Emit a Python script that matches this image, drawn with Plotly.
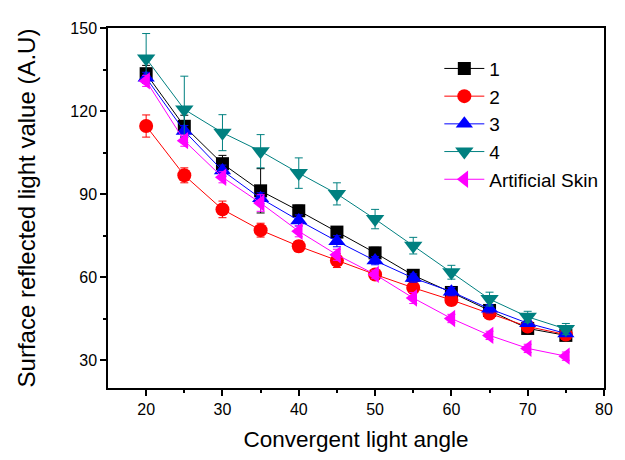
import plotly.graph_objects as go

angles = [20, 25, 30, 35, 40, 45, 50, 55, 60, 65, 70, 75]
s1 = [133.5, 114.5, 101, 91.2, 84, 76.3, 68.8, 60.7, 54.5, 48, 41.5, 39]
s2 = [114.6, 96.8, 84.5, 77, 71.2, 66, 61, 56.2, 51.8, 46.9, 42.2, 39.3]
s3 = [132, 112.8, 98.5, 88.5, 80.5, 73, 66, 59.7, 54.8, 48.6, 43.4, 39.7]
s4 = [139, 120.6, 112.2, 105.5, 97.6, 90.1, 81, 71.4, 61.8, 52.1, 45.7, 41.3]
s5 = [130.9, 109.3, 96.1, 86.8, 76.6, 68.1, 61, 52.5, 45.1, 39, 34.3, 31.5]

e1 = [3, 4, 3, 8, 2, 2, 2, 2, 2, 2, 1, 1]
e2 = [4, 2.7, 3, 2.5, 2, 2.5, 1.5, 2, 2, 1.5, 1, 1]
e3 = [2, 2, 2, 2, 2, 2, 1.5, 1.5, 1.5, 1.5, 1, 1]
e4 = [9, 12, 6.5, 6, 5.5, 4, 3.5, 3, 2.5, 2.5, 2, 2]
e5 = [2, 2, 2, 3, 2, 2, 1.5, 2, 1.5, 1.5, 1.5, 1.5]

names = ["1", "2", "3", "4", "Artificial Skin"]
series = [s1, s2, s3, s4, s5]
errors = [e1, e2, e3, e4, e5]
colors = ["#000000", "#FF0000", "#0000FF", "#008080", "#FF00FF"]
symbols = ["square", "circle", "triangle-up", "triangle-down", "triangle-left"]
sizes = [13, 14, 15, 16, 15]

FONT = "Liberation Sans, Arial"

fig = go.Figure()
for name, ys, es, c, sym, sz in zip(names, series, errors, colors, symbols, sizes):
    fig.add_trace(go.Scatter(
        x=angles, y=ys, name=name, mode="lines+markers",
        line=dict(color=c, width=1),
        marker=dict(symbol=sym, size=sz, color=c, line=dict(width=0)),
        error_y=dict(type="data", array=es, visible=True, color=c, thickness=1, width=4),
    ))

axis_common = dict(
    showline=True, linecolor="black", linewidth=1.5, mirror=True,
    ticks="outside", ticklen=6, tickwidth=1.5, tickcolor="black",
    showgrid=False, zeroline=False,
    tickfont=dict(family=FONT, size=16, color="black"),
)

fig.update_xaxes(
    range=[15, 80], tickvals=[20, 30, 40, 50, 60, 70, 80],
    minor=dict(tickvals=[25, 35, 45, 55, 65, 75], ticks="outside", ticklen=3, tickwidth=1.5, tickcolor="black"),
    title=dict(text="Convergent light angle", font=dict(family=FONT, size=22.5, color="black"), standoff=14),
    **axis_common,
)
fig.update_yaxes(
    range=[20, 150], tickvals=[30, 60, 90, 120, 150],
    minor=dict(tickvals=[45, 75, 105, 135], ticks="outside", ticklen=3, tickwidth=1.5, tickcolor="black"),
    title=dict(text="Surface reflected light value (A.U)", font=dict(family=FONT, size=24, color="black"), standoff=28),
    **axis_common,
)

fig.update_layout(
    width=617, height=452,
    margin=dict(l=100, r=12, t=14, b=66),
    paper_bgcolor="white", plot_bgcolor="white",
    showlegend=True,
    legend=dict(
        x=0.668, y=0.94, xanchor="left", yanchor="top",
        font=dict(family=FONT, size=19, color="black"),
        bgcolor="rgba(0,0,0,0)", tracegroupgap=0, itemwidth=40,
    ),
)

fig.write_html("out.html")
